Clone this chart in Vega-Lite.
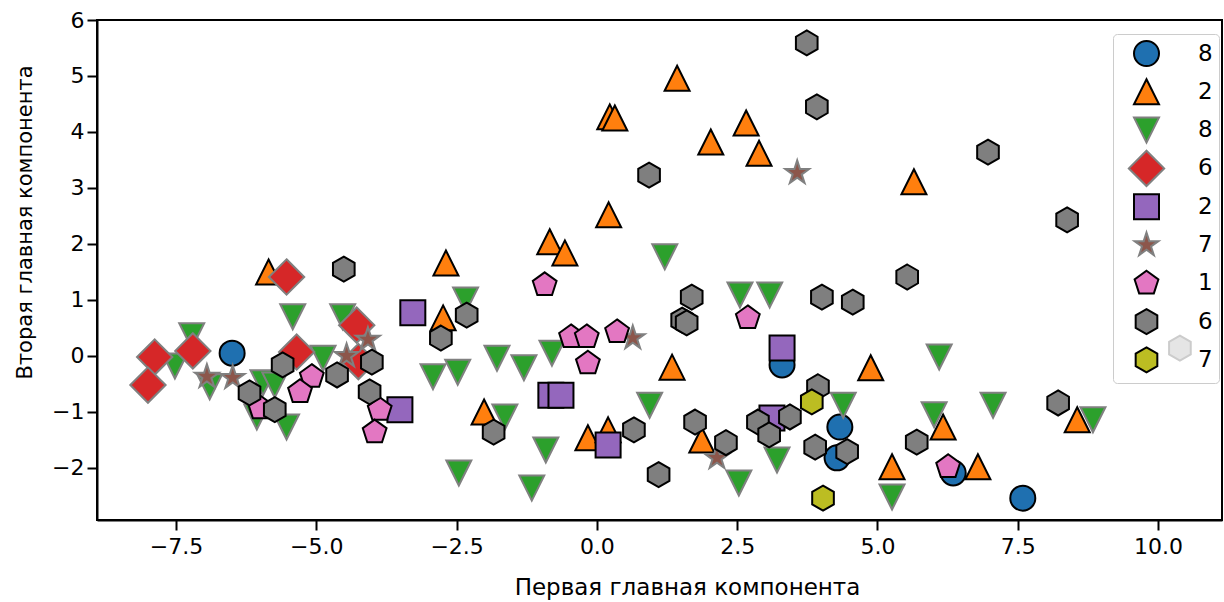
{
  "$schema": "https://vega.github.io/schema/vega-lite/v6.json",
  "width": 1125,
  "height": 500,
  "autosize": {"type": "none"},
  "padding": {"left": 97, "top": 20, "right": 2, "bottom": 82},
  "background": "white",
  "config": {
    "font": "DejaVu Sans",
    "view": {"stroke": "black", "strokeWidth": 2},
    "axis": {
      "domainColor": "black", "domainWidth": 2, "tickColor": "black", "tickWidth": 2, "tickSize": 10,
      "labelFont": "DejaVu Sans", "labelFontSize": 22, "labelColor": "black",
      "titleFont": "DejaVu Sans", "titleFontWeight": "normal", "titleColor": "black",
      "grid": false
    }
  },
  "data": {"values": [
    {"x": -6.5, "y": 0.05, "c": "0:8"},
    {"x": 3.3, "y": -0.16, "c": "0:8"},
    {"x": 4.33, "y": -1.27, "c": "0:8"},
    {"x": 4.28, "y": -1.82, "c": "0:8"},
    {"x": 6.35, "y": -2.09, "c": "0:8"},
    {"x": 7.59, "y": -2.54, "c": "0:8"},
    {"x": -5.85, "y": 1.5, "c": "1:2"},
    {"x": -0.84, "y": 2.04, "c": "1:2"},
    {"x": -0.57, "y": 1.84, "c": "1:2"},
    {"x": -2.69, "y": 1.66, "c": "1:2"},
    {"x": -2.74, "y": 0.68, "c": "1:2"},
    {"x": 1.34, "y": -0.2, "c": "1:2"},
    {"x": -2.01, "y": -1.0, "c": "1:2"},
    {"x": 1.87, "y": -1.5, "c": "1:2"},
    {"x": -0.16, "y": -1.46, "c": "1:2"},
    {"x": 0.2, "y": -1.32, "c": "1:2"},
    {"x": 4.88, "y": -0.21, "c": "1:2"},
    {"x": 6.17, "y": -1.27, "c": "1:2"},
    {"x": 5.26, "y": -1.98, "c": "1:2"},
    {"x": 6.79, "y": -1.98, "c": "1:2"},
    {"x": 1.43, "y": 4.96, "c": "1:2"},
    {"x": 0.23, "y": 4.27, "c": "1:2"},
    {"x": 0.32, "y": 4.25, "c": "1:2"},
    {"x": 2.66, "y": 4.16, "c": "1:2"},
    {"x": 2.03, "y": 3.82, "c": "1:2"},
    {"x": 2.89, "y": 3.62, "c": "1:2"},
    {"x": 5.65, "y": 3.11, "c": "1:2"},
    {"x": 0.21, "y": 2.52, "c": "1:2"},
    {"x": 8.56, "y": -1.14, "c": "1:2"},
    {"x": -5.42, "y": 0.7, "c": "2:8"},
    {"x": -4.53, "y": 0.7, "c": "2:8"},
    {"x": -7.22, "y": 0.36, "c": "2:8"},
    {"x": -7.52, "y": -0.18, "c": "2:8"},
    {"x": -6.9, "y": -0.55, "c": "2:8"},
    {"x": -4.88, "y": -0.04, "c": "2:8"},
    {"x": -5.95, "y": -0.48, "c": "2:8"},
    {"x": -5.74, "y": -0.52, "c": "2:8"},
    {"x": -5.53, "y": -1.27, "c": "2:8"},
    {"x": -6.06, "y": -1.09, "c": "2:8"},
    {"x": 1.21, "y": 1.77, "c": "2:8"},
    {"x": -2.34, "y": 1.0, "c": "2:8"},
    {"x": -2.92, "y": -0.37, "c": "2:8"},
    {"x": -2.48, "y": -0.29, "c": "2:8"},
    {"x": -1.78, "y": -0.04, "c": "2:8"},
    {"x": -1.3, "y": -0.21, "c": "2:8"},
    {"x": -0.8, "y": 0.05, "c": "2:8"},
    {"x": 0.94, "y": -0.88, "c": "2:8"},
    {"x": -1.64, "y": -1.09, "c": "2:8"},
    {"x": -0.91, "y": -1.68, "c": "2:8"},
    {"x": -2.46, "y": -2.09, "c": "2:8"},
    {"x": -1.16, "y": -2.36, "c": "2:8"},
    {"x": 2.55, "y": 1.09, "c": "2:8"},
    {"x": 3.08, "y": 1.09, "c": "2:8"},
    {"x": 6.1, "y": -0.02, "c": "2:8"},
    {"x": 4.39, "y": -0.88, "c": "2:8"},
    {"x": 7.06, "y": -0.88, "c": "2:8"},
    {"x": 6.01, "y": -1.05, "c": "2:8"},
    {"x": 3.21, "y": -1.86, "c": "2:8"},
    {"x": 2.53, "y": -2.27, "c": "2:8"},
    {"x": 5.26, "y": -2.52, "c": "2:8"},
    {"x": 8.84, "y": -1.14, "c": "2:8"},
    {"x": -5.53, "y": 1.41, "c": "3:6"},
    {"x": -4.28, "y": 0.55, "c": "3:6"},
    {"x": -5.35, "y": 0.07, "c": "3:6"},
    {"x": -7.2, "y": 0.09, "c": "3:6"},
    {"x": -7.88, "y": -0.02, "c": "3:6"},
    {"x": -8.0, "y": -0.52, "c": "3:6"},
    {"x": -4.25, "y": -0.1, "c": "3:6"},
    {"x": -3.28, "y": 0.77, "c": "4:2"},
    {"x": -3.51, "y": -0.96, "c": "4:2"},
    {"x": -0.82, "y": -0.7, "c": "4:2"},
    {"x": -0.64, "y": -0.7, "c": "4:2"},
    {"x": 0.2, "y": -1.59, "c": "4:2"},
    {"x": 3.3, "y": 0.14, "c": "4:2"},
    {"x": 3.12, "y": -1.11, "c": "4:2"},
    {"x": -6.95, "y": -0.37, "c": "5:7"},
    {"x": -6.49, "y": -0.39, "c": "5:7"},
    {"x": -4.46, "y": 0.0, "c": "5:7"},
    {"x": -4.08, "y": 0.29, "c": "5:7"},
    {"x": 0.64, "y": 0.32, "c": "5:7"},
    {"x": 2.14, "y": -1.82, "c": "5:7"},
    {"x": 3.57, "y": 3.27, "c": "5:7"},
    {"x": -5.08, "y": -0.37, "c": "6:1"},
    {"x": -5.29, "y": -0.64, "c": "6:1"},
    {"x": -6.0, "y": -0.93, "c": "6:1"},
    {"x": -3.87, "y": -0.96, "c": "6:1"},
    {"x": -3.96, "y": -1.36, "c": "6:1"},
    {"x": -0.93, "y": 1.27, "c": "6:1"},
    {"x": -0.46, "y": 0.34, "c": "6:1"},
    {"x": -0.18, "y": 0.34, "c": "6:1"},
    {"x": 0.36, "y": 0.43, "c": "6:1"},
    {"x": -0.16, "y": -0.13, "c": "6:1"},
    {"x": 2.69, "y": 0.68, "c": "6:1"},
    {"x": 6.26, "y": -1.98, "c": "6:1"},
    {"x": -4.51, "y": 1.55, "c": "7:6"},
    {"x": -4.01, "y": -0.11, "c": "7:6"},
    {"x": -5.6, "y": -0.16, "c": "7:6"},
    {"x": -4.63, "y": -0.34, "c": "7:6"},
    {"x": -6.19, "y": -0.66, "c": "7:6"},
    {"x": -5.74, "y": -0.96, "c": "7:6"},
    {"x": -4.05, "y": -0.64, "c": "7:6"},
    {"x": -2.32, "y": 0.73, "c": "7:6"},
    {"x": -2.78, "y": 0.32, "c": "7:6"},
    {"x": 1.69, "y": 1.05, "c": "7:6"},
    {"x": 1.52, "y": 0.64, "c": "7:6"},
    {"x": 1.6, "y": 0.59, "c": "7:6"},
    {"x": -1.84, "y": -1.36, "c": "7:6"},
    {"x": 0.66, "y": -1.32, "c": "7:6"},
    {"x": 1.75, "y": -1.18, "c": "7:6"},
    {"x": 1.1, "y": -2.12, "c": "7:6"},
    {"x": 5.53, "y": 1.41, "c": "7:6"},
    {"x": 4.01, "y": 1.05, "c": "7:6"},
    {"x": 4.56, "y": 0.96, "c": "7:6"},
    {"x": 3.94, "y": -0.55, "c": "7:6"},
    {"x": 2.87, "y": -1.18, "c": "7:6"},
    {"x": 3.44, "y": -1.09, "c": "7:6"},
    {"x": 3.07, "y": -1.41, "c": "7:6"},
    {"x": 2.3, "y": -1.55, "c": "7:6"},
    {"x": 3.89, "y": -1.63, "c": "7:6"},
    {"x": 4.46, "y": -1.71, "c": "7:6"},
    {"x": 5.7, "y": -1.54, "c": "7:6"},
    {"x": 3.74, "y": 5.59, "c": "7:6"},
    {"x": 3.92, "y": 4.45, "c": "7:6"},
    {"x": 6.97, "y": 3.64, "c": "7:6"},
    {"x": 0.93, "y": 3.23, "c": "7:6"},
    {"x": 8.38, "y": 2.43, "c": "7:6"},
    {"x": 10.39, "y": 0.14, "c": "7:6"},
    {"x": 8.22, "y": -0.84, "c": "7:6"},
    {"x": 3.83, "y": -0.82, "c": "8:7"},
    {"x": 4.03, "y": -2.54, "c": "8:7"}
  ]},
  "mark": {"type": "point", "filled": true, "size": 625, "strokeWidth": 2, "opacity": 1},
  "encoding": {
    "x": {
      "field": "x", "type": "quantitative",
      "scale": {"domain": [-8.908, 11.14], "nice": false, "zero": false},
      "axis": {
        "values": [-7.5, -5, -2.5, 0, 2.5, 5, 7.5, 10], "format": ".1f",
        "labelPadding": 6,
        "title": "Первая главная компонента", "titleFontSize": 23,
        "titleX": 590, "titleY": 67, "titleBaseline": "middle", "titleAlign": "center"
      }
    },
    "y": {
      "field": "y", "type": "quantitative",
      "scale": {"domain": [-2.93, 6.0], "nice": false, "zero": false},
      "axis": {
        "values": [-2, -1, 0, 1, 2, 3, 4, 5, 6], "format": "d",
        "labelPadding": 3,
        "title": "Вторая главная компонента", "titleFontSize": 21,
        "titleX": -72, "titleY": 202, "titleBaseline": "middle", "titleAlign": "center", "titleAngle": 270
      }
    },
    "color": {
      "field": "c", "type": "nominal",
      "scale": {
        "domain": ["0:8", "1:2", "2:8", "3:6", "4:2", "5:7", "6:1", "7:6", "8:7"],
        "range": ["#1f70b0", "#ff7f0e", "#2ca02c", "#d62728", "#9467bd", "#8c564b", "#e377c2", "#7f7f7f", "#bcbd22"]
      },
      "legend": {
        "title": null, "orient": "none", "legendX": 1016, "legendY": 14,
        "labelExpr": "substring(datum.label, 2)",
        "labelFontSize": 23, "labelFont": "DejaVu Sans", "labelColor": "black",
        "symbolSize": 625, "symbolStrokeWidth": 2, "symbolOpacity": 1,
        "padding": 6, "rowPadding": -6.7, "gridAlign": "all", "symbolOffset": 14, "labelOffset": 38,
        "fillColor": "rgba(255,255,255,0.8)", "strokeColor": "#cccccc", "cornerRadius": 4
      }
    },
    "shape": {
      "field": "c", "type": "nominal",
      "scale": {
        "domain": ["0:8", "1:2", "2:8", "3:6", "4:2", "5:7", "6:1", "7:6", "8:7"],
        "range": [
          "M1,0A1,1,0,1,1,-1,0A1,1,0,1,1,1,0Z",
          "M0,-1L1,1L-1,1Z",
          "M0,1L1,-1L-1,-1Z",
          "M0,-1.414L1.414,0L0,1.414L-1.414,0Z",
          "M-1,-1L1,-1L1,1L-1,1Z",
          "M0,-1L0.2245,-0.309L0.951,-0.309L0.363,0.118L0.588,0.809L0,0.382L-0.588,0.809L-0.363,0.118L-0.951,-0.309L-0.2245,-0.309Z",
          "M0,-1L0.951,-0.309L0.588,0.809L-0.588,0.809L-0.951,-0.309Z",
          "M0,-1L0.866,-0.5L0.866,0.5L0,1L-0.866,0.5L-0.866,-0.5Z",
          "M0,-1L0.866,-0.5L0.866,0.5L0,1L-0.866,0.5L-0.866,-0.5Z"
        ]
      }
    },
    "stroke": {
      "field": "c", "type": "nominal",
      "scale": {
        "domain": ["0:8", "1:2", "2:8", "3:6", "4:2", "5:7", "6:1", "7:6", "8:7"],
        "range": ["black", "black", "grey", "grey", "black", "grey", "black", "black", "black"]
      }
    }
  }
}
